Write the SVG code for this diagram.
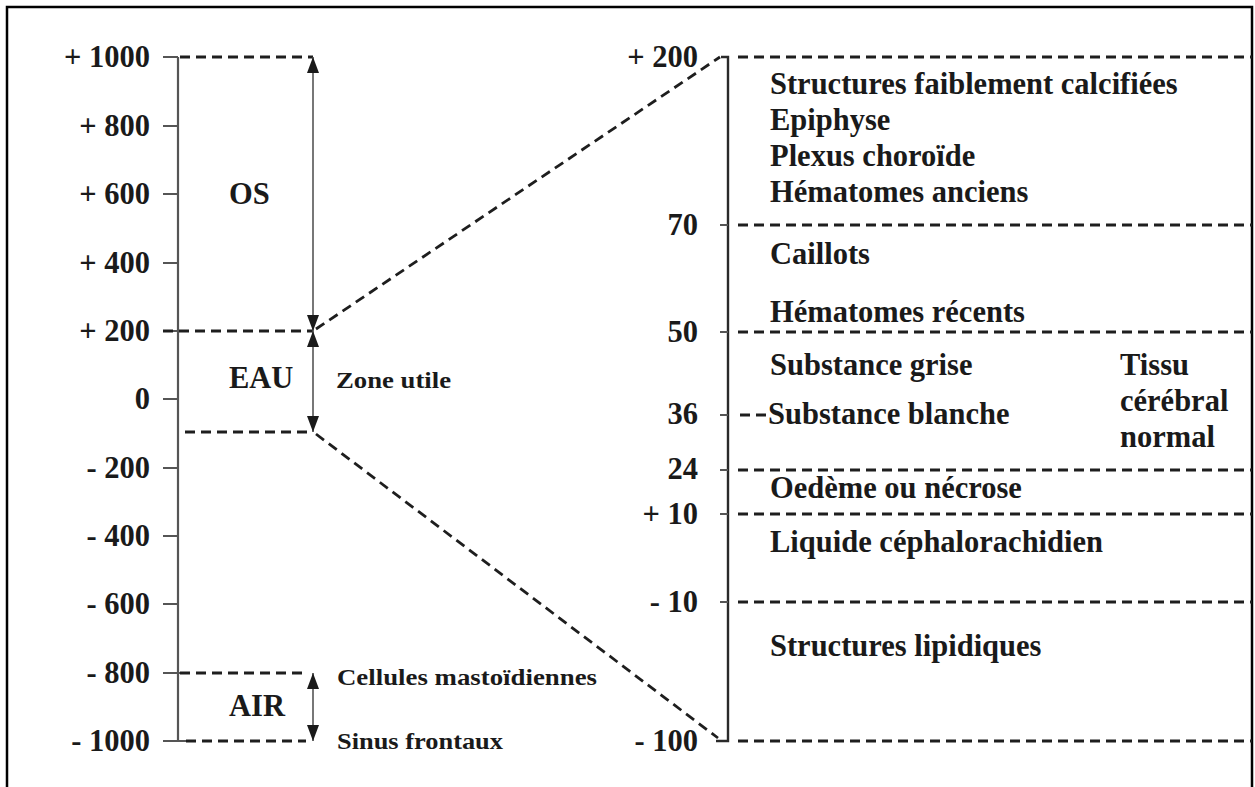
<svg xmlns="http://www.w3.org/2000/svg" width="1255" height="787" viewBox="0 0 1255 787">
<defs>
<style>
text{font-family:"Liberation Serif","Times New Roman",serif;font-weight:bold;fill:#1a1a1a}
.t{font-size:30.5px}
.lab{font-size:30.5px;text-anchor:end}
.s{font-size:24px}
.dash{stroke:#1e1e1e;stroke-width:2.8;stroke-dasharray:10 6;fill:none}
.ax{stroke:#555;stroke-width:2.2;fill:none}
.axr{stroke:#2a2a2a;stroke-width:2.4;fill:none}
.tick{stroke:#555;stroke-width:2}
.arr{stroke:#555;stroke-width:1.6;marker-start:url(#ah);marker-end:url(#ah)}
</style>
<marker id="ah" markerUnits="userSpaceOnUse" markerWidth="16" markerHeight="12" refX="16" refY="6" orient="auto-start-reverse">
<path d="M0,0 L16,6 L0,12 z" fill="#1a1a1a"/>
</marker>
</defs>
<rect width="1255" height="787" fill="#fff"/>
<path d="M7,787 V7 H1252 V787" fill="none" stroke="#000" stroke-width="2.5"/>

<g id="left-axis">
<line class="ax" x1="178" y1="57" x2="178" y2="741"/>
<g class="tick">
<line x1="163" y1="57" x2="178" y2="57"/>
<line x1="163" y1="126" x2="178" y2="126"/>
<line x1="163" y1="194" x2="178" y2="194"/>
<line x1="163" y1="263" x2="178" y2="263"/>
<line x1="163" y1="331" x2="178" y2="331"/>
<line x1="163" y1="399" x2="178" y2="399"/>
<line x1="163" y1="468" x2="178" y2="468"/>
<line x1="163" y1="536" x2="178" y2="536"/>
<line x1="163" y1="604" x2="178" y2="604"/>
<line x1="163" y1="673" x2="186" y2="673"/>
<line x1="163" y1="741" x2="186" y2="741"/>
</g>
<text class="lab" x="150" y="67">+ 1000</text>
<text class="lab" x="150" y="136">+ 800</text>
<text class="lab" x="150" y="204">+ 600</text>
<text class="lab" x="150" y="273">+ 400</text>
<text class="lab" x="150" y="341">+ 200</text>
<text class="lab" x="150" y="409">0</text>
<text class="lab" x="150" y="478">- 200</text>
<text class="lab" x="150" y="546">- 400</text>
<text class="lab" x="150" y="614">- 600</text>
<text class="lab" x="150" y="683">- 800</text>
<text class="lab" x="150" y="751">- 1000</text>
</g>

<g id="zone-os">
<text class="t" x="229" y="204">OS</text>
</g>
<g id="zone-eau">
<text class="t" x="229" y="388">EAU</text>
<text class="s" x="336" y="388" textLength="115" lengthAdjust="spacingAndGlyphs">Zone utile</text>
</g>
<g id="zone-air">
<text class="t" x="229" y="716">AIR</text>
<text class="s" x="337" y="685" textLength="260" lengthAdjust="spacingAndGlyphs">Cellules mastoïdiennes</text>
<text class="s" x="337" y="749" textLength="166" lengthAdjust="spacingAndGlyphs">Sinus frontaux</text>
</g>

<g id="right-axis">
<path class="axr" d="M721,57 H728 V741 H716"/>
<g class="tick">
<line x1="720" y1="225" x2="728" y2="225"/>
<line x1="720" y1="332" x2="728" y2="332"/>
<line x1="720" y1="415" x2="728" y2="415"/>
<line x1="720" y1="470" x2="728" y2="470"/>
<line x1="720" y1="514" x2="728" y2="514"/>
<line x1="720" y1="602" x2="728" y2="602"/>
</g>
<text class="lab" x="698" y="67">+ 200</text>
<text class="lab" x="698" y="235">70</text>
<text class="lab" x="698" y="342">50</text>
<text class="lab" x="698" y="424">36</text>
<text class="lab" x="698" y="479">24</text>
<text class="lab" x="698" y="524">+ 10</text>
<text class="lab" x="698" y="612">- 10</text>
<text class="lab" x="698" y="751">- 100</text>
</g>

<g id="labels-right">
<text class="t" x="770" y="94">Structures faiblement calcifiées</text>
<text class="t" x="770" y="130">Epiphyse</text>
<text class="t" x="770" y="166">Plexus choroïde</text>
<text class="t" x="770" y="202">Hématomes anciens</text>
<text class="t" x="770" y="264">Caillots</text>
<text class="t" x="770" y="322">Hématomes récents</text>
<text class="t" x="770" y="375">Substance grise</text>
<text class="t" x="768" y="424">Substance blanche</text>
<text class="t" x="770" y="498">Oedème ou nécrose</text>
<text class="t" x="770" y="552">Liquide céphalorachidien</text>
<text class="t" x="770" y="656">Structures lipidiques</text>
<text class="t" x="1120" y="375">Tissu</text>
<text class="t" x="1120" y="411">cérébral</text>
<text class="t" x="1120" y="447">normal</text>
</g>

<g id="connectors">
<line class="dash" x1="180" y1="57" x2="313" y2="57"/>
<line class="dash" x1="163" y1="331" x2="313" y2="331"/>
<line class="dash" x1="185" y1="432" x2="313" y2="432"/>
<line class="dash" x1="180" y1="673" x2="306" y2="673"/>
<line class="dash" x1="186" y1="741" x2="306" y2="741"/>
<line class="arr" x1="313" y1="57" x2="313" y2="331"/>
<line class="arr" x1="313" y1="331" x2="313" y2="432"/>
<line class="arr" x1="313" y1="673" x2="313" y2="741"/>
<line class="dash" x1="316" y1="329" x2="720" y2="57"/>
<line class="dash" x1="316" y1="434" x2="718" y2="738"/>
<line class="dash" x1="738" y1="57" x2="1252" y2="57"/>
<line class="dash" x1="738" y1="225" x2="1252" y2="225"/>
<line class="dash" x1="738" y1="332" x2="1252" y2="332"/>
<line class="dash" x1="740" y1="415" x2="766" y2="415"/>
<line class="dash" x1="738" y1="470" x2="1252" y2="470"/>
<line class="dash" x1="738" y1="514" x2="1252" y2="514"/>
<line class="dash" x1="738" y1="602" x2="1252" y2="602"/>
<line class="dash" x1="738" y1="741" x2="1252" y2="741"/>
</g>
</svg>
